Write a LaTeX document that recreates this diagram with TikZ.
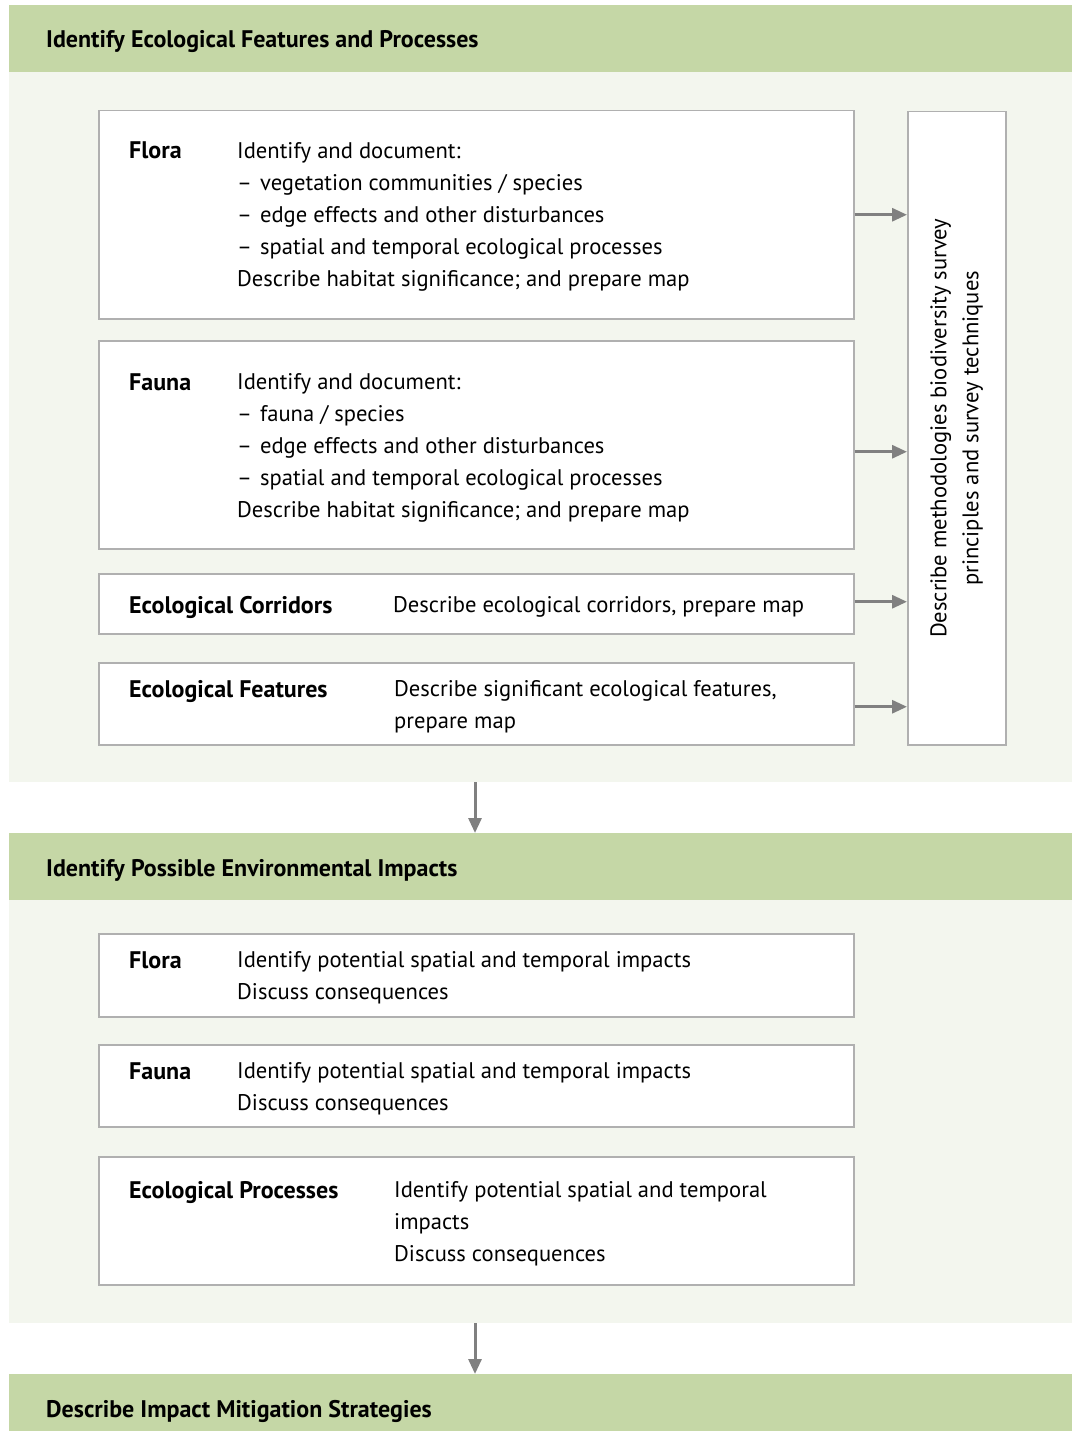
\documentclass[tikz,border=0pt]{standalone}
\usepackage{fontspec}
\setmainfont{PT Sans}
\usetikzlibrary{arrows.meta, positioning}
\definecolor{headgreen}{HTML}{C5D7A6}
\definecolor{panelgreen}{HTML}{F3F6EE}
\definecolor{boxgray}{HTML}{B0B0B0}
\definecolor{arrowgray}{HTML}{808080}
\tikzstyle{header} = [rectangle, fill=headgreen, minimum width=1063pt, minimum height=67pt, anchor=north west, inner sep=0]
\tikzstyle{band} = [rectangle, fill=panelgreen, minimum width=1063pt, anchor=north west, inner sep=0]
\tikzstyle{box} = [rectangle, draw=boxgray, line width=1.5pt, fill=white, minimum width=755pt, anchor=north west, inner sep=0]
\tikzstyle{headtext} = [anchor=west, inner sep=0, font=\fontsize{24}{32}\selectfont\bfseries]
\tikzstyle{label} = [anchor=north west, inner sep=0, font=\fontsize{24}{32}\selectfont\bfseries]
\tikzstyle{body} = [anchor=north west, inner sep=0, align=left, font=\fontsize{22.6}{32}\selectfont]
\tikzstyle{arrow} = [line width=3pt, draw=arrowgray, -{Triangle[length=15pt,width=13pt]}]

\begin{document}
\begin{tikzpicture}[x=1pt, y=-1pt]
    \useasboundingbox (0,0) rectangle (1072,1431);

    % section 1
    \node (head1) [header] at (9,5) {};
    \node (band1) [band, minimum height=710pt] at (9,72) {};
    \node (head1_text) [headtext] at (46,42) {Identify Ecological Features and Processes};

    \node (flora) [box, minimum height=208pt] at (98,110) {};
    \node (fauna) [box, minimum height=208pt] at (98,340) {};
    \node (corridors) [box, minimum height=60pt] at (98,573) {};
    \node (features) [box, minimum height=82pt] at (98,662) {};
    \node (methods) [box, minimum width=98pt, minimum height=633pt] at (907,111) {};

    \node (flora_label) [label] at (129,142) {Flora};
    \node (flora_text) [body] at (237,142) {Identify and document:\\
        –\hspace{8pt}vegetation communities / species\\
        –\hspace{8pt}edge effects and other disturbances\\
        –\hspace{8pt}spatial and temporal ecological processes\\
        Describe habitat significance; and prepare map};

    \node (fauna_label) [label] at (129,373) {Fauna};
    \node (fauna_text) [body] at (237,373) {Identify and document:\\
        –\hspace{8pt}fauna / species\\
        –\hspace{8pt}edge effects and other disturbances\\
        –\hspace{8pt}spatial and temporal ecological processes\\
        Describe habitat significance; and prepare map};

    \node (corridors_label) [label] at (129,596) {Ecological Corridors};
    \node (corridors_text) [body] at (393,596) {Describe ecological corridors, prepare map};

    \node (features_label) [label] at (129,680) {Ecological Features};
    \node (features_text) [body] at (394,680) {Describe significant ecological features,\\prepare map};

    \node (methods_text) [body, anchor=center, align=center, rotate=90] at (methods.center)
        {Describe methodologies biodiversity survey\\principles and survey techniques};

    \draw [arrow] (flora.east) -- (flora.east -| methods.west);
    \draw [arrow] ([yshift=-7pt]fauna.east) -- ([yshift=-7pt]fauna.east -| methods.west);
    \draw [arrow] ([yshift=2pt]corridors.east) -- ([yshift=2pt]corridors.east -| methods.west);
    \draw [arrow] ([yshift=-3pt]features.east) -- ([yshift=-3pt]features.east -| methods.west);

    % section 2
    \node (head2) [header] at (9,833) {};
    \node (band2) [band, minimum height=423pt] at (9,900) {};
    \node (head2_text) [headtext] at (46,870) {Identify Possible Environmental Impacts};

    \draw [arrow] ([xshift=466pt]band1.south west) -- ([xshift=466pt]head2.north west);

    \node (flora2) [box, minimum height=83pt] at (98,933) {};
    \node (fauna2) [box, minimum height=82pt] at (98,1044) {};
    \node (processes) [box, minimum height=128pt] at (98,1156) {};

    \node (flora2_label) [label] at (129,951) {Flora};
    \node (flora2_text) [body] at (237,951) {Identify potential spatial and temporal impacts\\Discuss consequences};

    \node (fauna2_label) [label] at (129,1062) {Fauna};
    \node (fauna2_text) [body] at (237,1062) {Identify potential spatial and temporal impacts\\Discuss consequences};

    \node (processes_label) [label] at (129,1181) {Ecological Processes};
    \node (processes_text) [body] at (394,1181) {Identify potential spatial and temporal\\impacts\\Discuss consequences};

    % section 3
    \node (head3) [header, minimum height=57pt] at (9,1374) {};
    \node (head3_text) [headtext] at (46,1411) {Describe Impact Mitigation Strategies};

    \draw [arrow] ([xshift=466pt]band2.south west) -- ([xshift=466pt]head3.north west);

\end{tikzpicture}
\end{document}
